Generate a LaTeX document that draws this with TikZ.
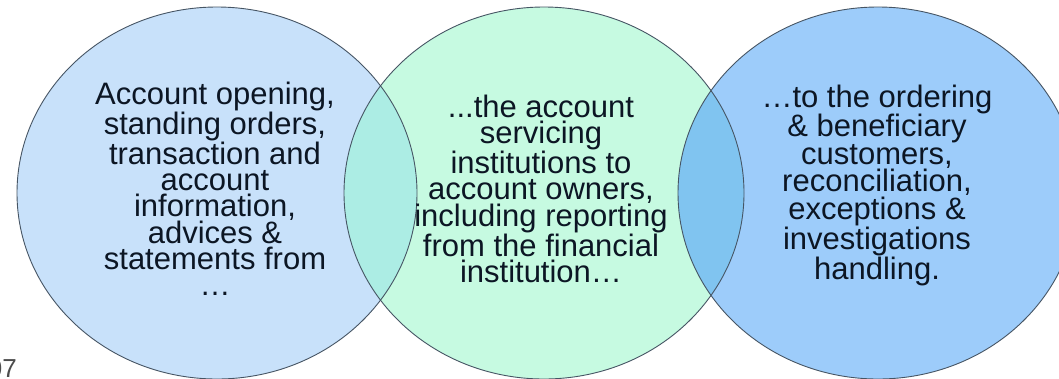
\documentclass[tikz,border=0pt]{standalone}
\usepackage{fontspec}
\setmainfont{Liberation Sans}
\definecolor{cL}{RGB}{200,225,250}
\definecolor{cM}{RGB}{198,250,225}
\definecolor{cR}{RGB}{157,204,250}
\definecolor{cLM}{RGB}{172,237,228}
\definecolor{cMR}{RGB}{128,196,240}
\definecolor{edge}{RGB}{70,85,100}
\definecolor{ink}{RGB}{12,22,36}
\begin{document}
\begin{tikzpicture}[x=1pt,y=-1pt,
  venntext/.style={align=center,text=ink,font=\fontsize{31}{26}\selectfont,inner sep=0pt},
  outline/.style={draw=edge,line width=0.9pt},
  pagenum/.style={text=black!70,font=\fontsize{26}{26}\selectfont,inner sep=0pt}]
\useasboundingbox (0,0) rectangle (1059,378);
\fill[white] (0,0) rectangle (1059,378);
% fills
\fill[cL] (217,193) ellipse [x radius=200pt, y radius=186pt];
\fill[cM] (544,193) ellipse [x radius=200pt, y radius=186pt];
\fill[cR] (878,193) ellipse [x radius=200pt, y radius=186pt];
\begin{scope}
  \clip (217,193) ellipse [x radius=200pt, y radius=186pt];
  \fill[cLM] (544,193) ellipse [x radius=200pt, y radius=186pt];
\end{scope}
\begin{scope}
  \clip (544,193) ellipse [x radius=200pt, y radius=186pt];
  \fill[cMR] (878,193) ellipse [x radius=200pt, y radius=186pt];
\end{scope}
% outlines
\draw[outline] (217,193) ellipse [x radius=200pt, y radius=186pt];
\draw[outline] (544,193) ellipse [x radius=200pt, y radius=186pt];
\draw[outline] (878,193) ellipse [x radius=200pt, y radius=186pt];
% texts
\node[venntext] (tL) at (215,189) {Account opening,\\standing orders,\\transaction and\\account\\information,\\advices \&\\statements from\\…};
\node[venntext] (tM) at (541,189) {...the account\\servicing\\institutions to\\account owners,\\including reporting\\from the financial\\institution…};
\node[venntext] (tR) at (877,185) {…to the ordering\\\& beneficiary\\customers,\\reconciliation,\\exceptions \&\\investigations\\handling.};
\node[pagenum,anchor=base east] (pn) at (17,377) {07};
\end{tikzpicture}
\end{document}
